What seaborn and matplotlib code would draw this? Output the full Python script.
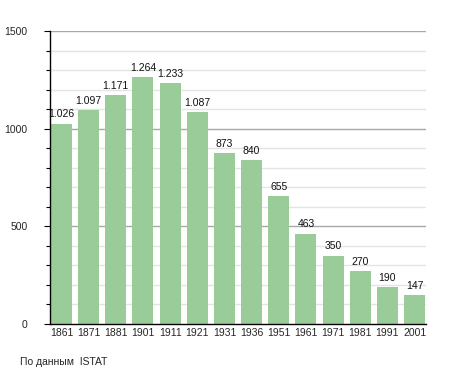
import matplotlib
matplotlib.use("Agg")
import matplotlib.pyplot as plt
import seaborn as sns
import pandas as pd

years = ["1861", "1871", "1881", "1901", "1911", "1921", "1931", "1936",
         "1951", "1961", "1971", "1981", "1991", "2001"]
population = [1026, 1097, 1171, 1264, 1233, 1087, 873, 840, 655, 463, 350, 270, 190, 147]
value_labels = ["1.026", "1.097", "1.171", "1.264", "1.233", "1.087", "873", "840",
                "655", "463", "350", "270", "190", "147"]
source_text = "По данным  ISTAT"

sns.set_theme(style="white")
plt.rcParams['font.family'] = ['Liberation Sans', 'DejaVu Sans']

df = pd.DataFrame({"year": years, "pop": population})

fig = plt.figure(figsize=(4.55, 3.73), dpi=100)
ax = fig.add_axes([50 / 455, 49 / 373, 376 / 455, 293 / 373])

for v in range(100, 1600, 100):
    if v % 500 == 0:
        ax.axhline(v, color="#a8a8a8", lw=1.0, zorder=0)
    else:
        ax.axhline(v, color="#e4e4e4", lw=1.0, zorder=0)

sns.barplot(data=df, x="year", y="pop", color="#99cc99", saturation=1,
            width=0.77, ax=ax, zorder=2, linewidth=0)

for i, (v, lab) in enumerate(zip(population, value_labels)):
    ax.annotate(lab, (i, v), xytext=(0, 3), textcoords="offset points",
                ha="center", va="bottom", fontsize=7.5, color="#111111")

ax.set_ylim(0, 1500)
ax.set_xlim(-0.42, len(years) - 1 + 0.42)
ax.set_yticks([0, 500, 1000, 1500])
ax.set_yticks(range(0, 1501, 100), minor=True)
ax.tick_params(axis="y", which="both", direction="out", length=4, width=0.8,
               color="black", labelsize=7.5, left=True, pad=12)
ax.tick_params(axis="y", which="minor", length=3)
ax.tick_params(axis="x", length=0, labelsize=7.5, pad=3)
ax.set_xlabel("")
ax.set_ylabel("")
for s in ["top", "right"]:
    ax.spines[s].set_visible(False)
ax.spines["left"].set_color("black")
ax.spines["bottom"].set_color("black")
ax.spines["left"].set_linewidth(1.0)
ax.spines["bottom"].set_linewidth(1.0)

fig.text(20 / 455, 1 - 362 / 373, source_text, fontsize=7.5, ha="left", va="center")

fig.savefig("out.png", dpi=100)
